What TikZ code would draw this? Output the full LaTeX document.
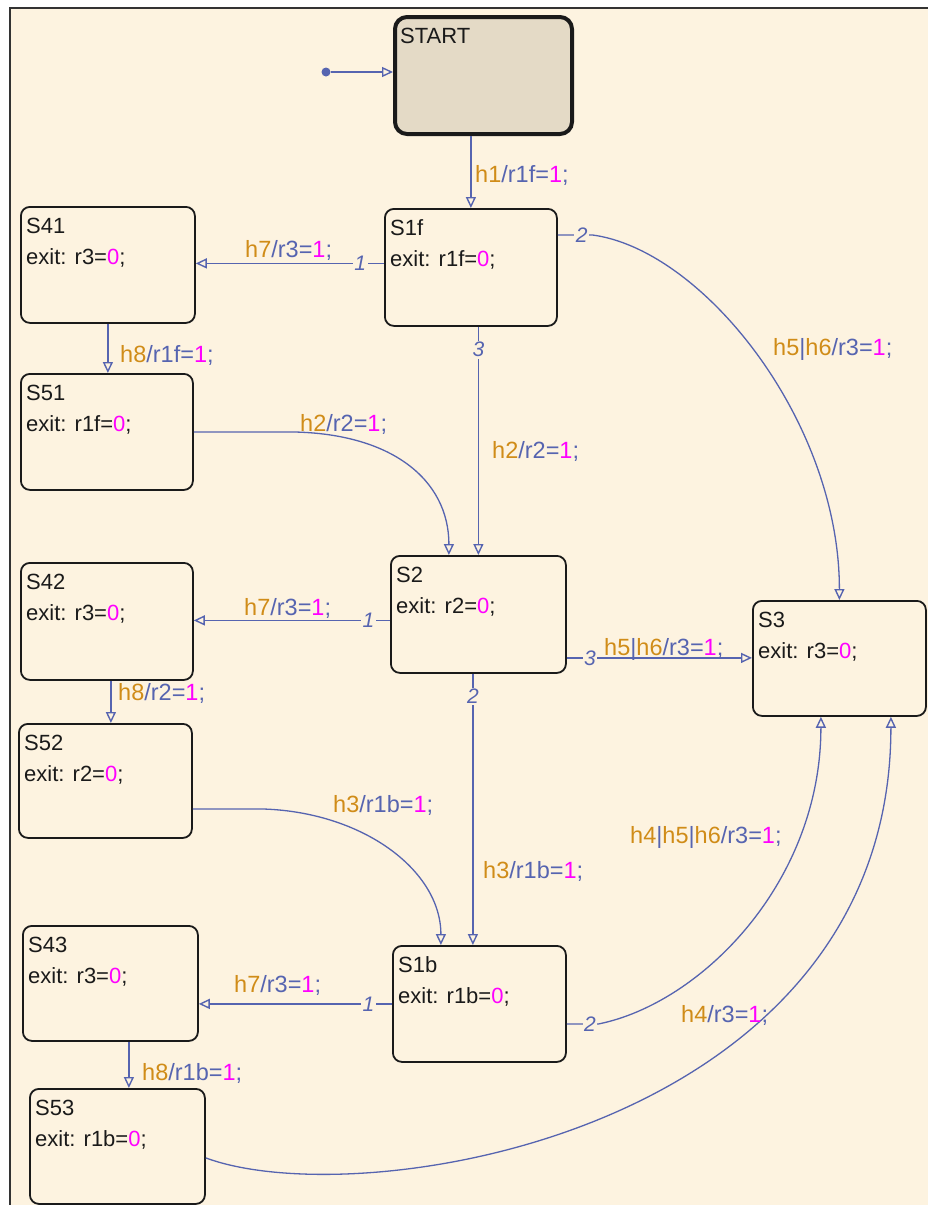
\documentclass[tikz,border=0pt]{standalone}
\usepackage{fontspec}
\setmainfont{Liberation Sans}
\usetikzlibrary{arrows.meta,calc}
\definecolor{bg}{HTML}{FDF3E0}
\definecolor{ln}{HTML}{5664B0}
\definecolor{tor}{HTML}{D08C18}
\definecolor{tmg}{HTML}{FF00FF}
\definecolor{stfill}{HTML}{E4DAC6}
\definecolor{txt}{HTML}{1A1A1A}
\newcommand\Ho[1]{\textcolor{tor}{#1}}
\newcommand\Bl[1]{\textcolor{ln}{#1}}
\newcommand\Mg[1]{\textcolor{tmg}{#1}}
\begin{document}
\begin{tikzpicture}[x=1pt,y=-1pt,
  sbox/.style={draw=txt, line width=1.8pt, rounded corners=9pt, fill=bg, anchor=north west, inner sep=0pt},
  stitle/.style={anchor=base west, inner sep=0pt, text=txt, font=\fontsize{22}{26}\selectfont},
  tr/.style={draw=ln, line width=1.3pt, -{Triangle[length=11pt,width=10pt,fill=bg,line width=1.4pt]}},
  lab/.style={anchor=base west, inner sep=0pt, text=ln, font=\fontsize{23.5}{28}\selectfont},
  num/.style={fill=bg, inner sep=1.5pt, text=ln, font=\fontsize{21}{24}\selectfont\itshape}]
\useasboundingbox (0,0) rectangle (928,1205);
\fill[white] (0,0) rectangle (928,1205);
\fill[bg] (10,8) rectangle (928,1205);
\draw[black!80, line width=2pt] (10,1205) -- (10,8) -- (928,8);

% states
\node[sbox, minimum width=177pt, minimum height=117pt, fill=stfill, line width=4pt, rounded corners=12pt] (START) at (393,15) {};
\node[stitle] (START-t) at ([shift={(7,28)}]START.north west) {START};
\node[sbox, minimum width=172pt, minimum height=117pt] (S1f) at (384,208) {};
\node[sbox, minimum width=174pt, minimum height=116pt] (S41) at (20,206) {};
\node[sbox, minimum width=172pt, minimum height=116pt] (S51) at (20,373) {};
\node[sbox, minimum width=175pt, minimum height=117pt] (S2) at (390,555) {};
\node[sbox, minimum width=172pt, minimum height=117pt] (S42) at (20,562) {};
\node[sbox, minimum width=173pt, minimum height=114pt] (S52) at (18,723) {};
\node[sbox, minimum width=173pt, minimum height=115pt] (S3) at (752,600) {};
\node[sbox, minimum width=175pt, minimum height=115pt] (S43) at (22,925) {};
\node[sbox, minimum width=173pt, minimum height=116pt] (S1b) at (392,945) {};
\node[sbox, minimum width=175pt, minimum height=115pt] (S53) at (29,1088) {};
\foreach \n/\e in {S1f/r1f, S41/r3, S51/r1f, S2/r2, S42/r3, S52/r2, S3/r3, S43/r3, S1b/r1b, S53/r1b} {
  \node[stitle] (\n-t) at ([shift={(6,27)}]\n.north west) {\n};
  \node[stitle] (\n-e) at ([shift={(6,58)}]\n.north west) {exit: \e=\Mg{0};};
}

% default transition
\node[circle, fill=ln, inner sep=0pt, minimum size=9pt] (init) at (326,72) {};
\draw[tr] (init) -- (init -| START.west);

% transitions
\draw[tr] (START.south -| S1f.north) -- (S1f.north);

\coordinate (a1) at ([yshift=4pt]S1f.west);
\draw[tr] (a1) -- (a1 -| S41.east) node[num, pos=0.126] (n1) {1};

\draw[tr] (S41.south) -- (S41.south |- S51.north);

\draw[tr] (S1f.south -| S2.north) -- (S2.north) node[num, pos=0.1] (n2) {3};

\draw[tr] (S51.east) -- ++(93,0) .. controls +(105,0) and +(0,-75) .. ([xshift=-29.5pt]S2.north);

\coordinate (b1) at ([yshift=32.5pt]S1f.east);
\draw[tr] (b1) -- ++(34,0) node[num, pos=0.7] (n3) {2} .. controls +(110,14) and +(0,-180) .. (S3.north);

\coordinate (c1) at ([yshift=-6pt]S2.west);
\draw[tr] (c1) -- (c1 -| S42.east) node[num, pos=0.11] (n4) {1};

\coordinate (d1) at ([xshift=4pt]S42.south);
\draw[tr] (d1) -- (d1 |- S52.north);

\coordinate (e1) at ([yshift=-43.5pt]S2.east);
\draw[tr] (e1) -- (e1 -| S3.west) node[num, pos=0.125] (n5) {3};

\coordinate (f1) at ([xshift=-5.5pt]S2.south);
\draw[tr] (f1) -- (f1 |- S1b.north) node[num, pos=0.084] (n6) {2};

\coordinate (g1) at ([yshift=-28pt]S52.east);
\draw[tr] (g1) -- ++(67,0) .. controls +(102,2) and +(0,-75) .. ([xshift=-38.5pt]S1b.north);

\draw[tr] (S1b.west) -- (S1b.west -| S43.east) node[num, pos=0.122] (n7) {1};

\coordinate (h1) at ([xshift=18.5pt]S43.south);
\draw[tr] (h1) -- (h1 |- S53.north);

\coordinate (i1) at ([yshift=-20pt]S1b.east);
\draw[tr] (i1) -- ++(32,0) node[num, pos=0.72] (n8) {2} .. controls +(103,-21) and +(0,165) .. ([xshift=-18.5pt]S3.south);

\coordinate (j1) at ([yshift=-11.5pt]S53.east);
\draw[tr] (j1) .. controls +(156,58) and +(0,415) .. ([xshift=51.5pt]S3.south);

% labels
\node[lab] (L1) at (475,182) {\Ho{h1}/r1f=\Mg{1};};
\node[lab] (L2) at (245,257) {\Ho{h7}/r3=\Mg{1};};
\node[lab] (L3) at (120,362) {\Ho{h8}/r1f=\Mg{1};};
\node[lab] (L4) at (300,431) {\Ho{h2}/r2=\Mg{1};};
\node[lab] (L5) at (492,458) {\Ho{h2}/r2=\Mg{1};};
\node[lab] (L6) at (773,355) {\Ho{h5}|\Ho{h6}/r3=\Mg{1};};
\node[lab] (L7) at (244,615) {\Ho{h7}/r3=\Mg{1};};
\node[lab] (L8) at (118,700) {\Ho{h8}/r2=\Mg{1};};
\node[lab] (L9) at (604,655) {\Ho{h5}|\Ho{h6}/r3=\Mg{1};};
\node[lab] (L10) at (333,812) {\Ho{h3}/r1b=\Mg{1};};
\node[lab] (L11) at (483,878) {\Ho{h3}/r1b=\Mg{1};};
\node[lab] (L12) at (630,843) {\Ho{h4}|\Ho{h5}|\Ho{h6}/r3=\Mg{1};};
\node[lab] (L13) at (234,992) {\Ho{h7}/r3=\Mg{1};};
\node[lab] (L14) at (681,1022) {\Ho{h4}/r3=\Mg{1};};
\node[lab] (L15) at (142,1080) {\Ho{h8}/r1b=\Mg{1};};
\end{tikzpicture}
\end{document}
